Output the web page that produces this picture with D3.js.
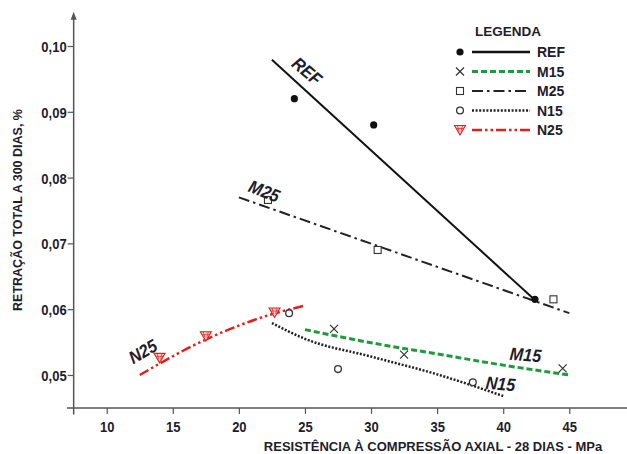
<!DOCTYPE html>
<html>
<head>
<meta charset="utf-8">
<script src="https://cdn.jsdelivr.net/npm/d3@7"></script>
<style>
body{margin:0;background:#fff;}
text{font-family:"Liberation Sans Narrow","Arial Narrow","Liberation Sans",Arial,sans-serif;font-weight:bold;fill:#1d1d2b;}
</style>
</head>
<body>
<div id="chart"></div>
<script>
const width = 627;
const height = 454;

// measured points
const refPts = [[24.2,0.0920],[30.2,0.0880],[42.4,0.0615]];
const m15Pts = [[27.2,0.0570],[32.5,0.0531],[44.5,0.0510]];
const m25Pts = [[22.2,0.0766],[30.5,0.0690],[43.8,0.0615]];
const n15Pts = [[23.8,0.0594],[27.5,0.0509],[37.7,0.0489]];
const n25Pts = [[14.0,0.0526],[17.5,0.0559],[22.7,0.0595]];

// trend curves
const refFit = [[22.5,0.0979],[42.5,0.0612]];
const m15Fit = [[25,0.0569],[30,0.0549],[35,0.0532],[40,0.0515],[45,0.0500]];
const m25Fit = [[20,0.0770],[45,0.0594]];
const n15Fit = [[22.5,0.0579],[25,0.0555],[30,0.0528],[35,0.0501],[40,0.0468]];
const n25Fit = [[12.5,0.0500],[17.4,0.0553],[22.6,0.0593],[24.9,0.0605]];

const xTicks = [10,15,20,25,30,35,40,45];
const yTicks = [0.05,0.06,0.07,0.08,0.09,0.10];
const legendNames = ["REF","M15","M25","N15","N25"];

const svg = d3.select("#chart").append("svg")
.attr("width",width)
.attr("height",height);

const x = d3.scaleLinear().domain([10,45]).range([106.7,569.3]);
const y = d3.scaleLinear().domain([0.05,0.10]).range([375,46]);

const axisColor = "#555";
const squeeze = 0.84;

// Y AXIS
const yAxis = svg.append("g")
.attr("transform",`translate(${x(7.5)},0)`)
.call(d3.axisLeft(y).tickValues(yTicks).tickSize(6).tickFormat(d=>d3.format(".2f")(d).replace(".",",")));
yAxis.select(".domain").remove();
yAxis.selectAll("line").attr("stroke",axisColor).attr("stroke-width",1.2);
yAxis.selectAll("text")
.attr("font-size",15.5)
.attr("transform",`scale(${squeeze},1)`)
.attr("x",-7/squeeze)
.attr("dy","0.35em")
.attr("fill","#1d1d2b");

svg.append("line")
.attr("x1",x(7.5)).attr("x2",x(7.5))
.attr("y1",y(0.1047)).attr("y2",y(0.0440))
.attr("stroke",axisColor).attr("stroke-width",1.5);
svg.append("path")
.attr("d",`M${x(7.5)-3},${y(0.1040)} L${x(7.5)},${y(0.1052)} L${x(7.5)+3},${y(0.1040)} Z`)
.attr("fill",axisColor);

// X AXIS
const xAxis = svg.append("g")
.attr("transform",`translate(0,${y(0.045)})`)
.call(d3.axisBottom(x).tickValues(xTicks).tickSize(6));
xAxis.select(".domain").remove();
xAxis.selectAll("line").attr("stroke",axisColor).attr("stroke-width",1.2);
xAxis.selectAll("text")
.attr("font-size",15.5)
.attr("transform",`scale(${squeeze},1)`)
.attr("dy","0.95em")
.attr("fill","#1d1d2b");

svg.append("line")
.attr("x1",x(7.0)).attr("x2",width)
.attr("y1",y(0.045)).attr("y2",y(0.045))
.attr("stroke",axisColor).attr("stroke-width",1.5);

// AXIS TITLES
svg.append("text")
.attr("transform","translate(22,210) rotate(-90)")
.attr("text-anchor","middle")
.attr("font-size",12.5)
.text("RETRAÇÃO TOTAL A 300 DIAS, %");

svg.append("text")
.attr("x",433)
.attr("y",451)
.attr("text-anchor","middle")
.attr("font-size",13)
.text("RESISTÊNCIA À COMPRESSÃO AXIAL - 28 DIAS - MPa");

// LINE STYLES
const styles = {
REF:{color:"#111",width:2,dash:null},
M15:{color:"#1e9a3c",width:3,dash:"6,3"},
M25:{color:"#222",width:2,dash:"11,4,2.5,4"},
N15:{color:"#222",width:2.5,dash:"2,1.6"},
N25:{color:"#e0201c",width:2.5,dash:"10,3,2.5,3,2.5,3"}
};

const line = d3.line()
.x(d=>x(d[0]))
.y(d=>y(d[1]))
.curve(d3.curveMonotoneX);

const fits = [["REF",refFit],["M15",m15Fit],["M25",m25Fit],["N15",n15Fit],["N25",n25Fit]];
fits.forEach(([k,pts])=>{
svg.append("path")
.datum(pts)
.attr("fill","none")
.attr("stroke",styles[k].color)
.attr("stroke-width",styles[k].width)
.attr("stroke-dasharray",styles[k].dash)
.attr("d",line);
});

// MARKERS
function marker(g,k,cx,cy){
if(k==="REF"){
g.append("circle").attr("cx",cx).attr("cy",cy).attr("r",3.6).attr("fill","#111");
}else if(k==="M15"){
g.append("path").attr("d",`M${cx-4},${cy-4}L${cx+4},${cy+4}M${cx-4},${cy+4}L${cx+4},${cy-4}`)
.attr("stroke","#333").attr("stroke-width",1.2);
}else if(k==="M25"){
g.append("rect").attr("x",cx-3.5).attr("y",cy-3.5).attr("width",7).attr("height",7)
.attr("fill","#fff").attr("stroke","#333").attr("stroke-width",1.1);
}else if(k==="N15"){
g.append("circle").attr("cx",cx).attr("cy",cy).attr("r",3.4)
.attr("fill","#fff").attr("stroke","#333").attr("stroke-width",1.3);
}else{
g.append("path").attr("d",`M${cx-5.5},${cy-4.5}L${cx+5.5},${cy-4.5}L${cx},${cy+5}Z`)
.attr("fill","#fbd0d0").attr("stroke","#e0201c").attr("stroke-width",1.1);
g.append("path").attr("d",`M${cx-2.5},${cy-4.5}L${cx-1},${cy+1.5}M${cx+2.5},${cy-4.5}L${cx+1},${cy+1.5}M${cx-3.5},${cy-1.5}L${cx+3.5},${cy-1.5}`)
.attr("stroke","#e0201c").attr("stroke-width",0.7);
}
}

const pts = [["REF",refPts],["M15",m15Pts],["M25",m25Pts],["N15",n15Pts],["N25",n25Pts]];
pts.forEach(([k,arr])=>{
arr.forEach(d=>marker(svg,k,x(d[0]),y(d[1])));
});

// CURVE LABELS
const curveLabels = [
{t:"REF",x:303,y:76,a:40},
{t:"M25",x:262,y:197,a:21},
{t:"M15",x:525,y:361,a:5},
{t:"N15",x:500,y:390,a:5},
{t:"N25",x:146,y:357,a:-30}
];
svg.selectAll(".clab")
.data(curveLabels)
.enter()
.append("text")
.attr("class","clab")
.attr("transform",d=>`translate(${d.x},${d.y}) rotate(${d.a}) scale(0.9,1)`)
.attr("text-anchor","middle")
.attr("font-size",18)
.attr("font-style","italic")
.text(d=>d.t);

// LEGEND
svg.append("text")
.attr("x",475)
.attr("y",36)
.attr("font-size",13.5)
.text("LEGENDA");

const lg = svg.append("g");
legendNames.forEach((k,i)=>{
const ly = 52 + i*19.5;
marker(lg,k,460,ly);
lg.append("line")
.attr("x1",472).attr("x2",530)
.attr("y1",ly).attr("y2",ly)
.attr("stroke",styles[k].color)
.attr("stroke-width",k==="REF"?2.5:styles[k].width)
.attr("stroke-dasharray",styles[k].dash);
lg.append("text")
.attr("x",537)
.attr("y",ly+5)
.attr("font-size",14)
.text(k);
});
</script>
</body>
</html>
